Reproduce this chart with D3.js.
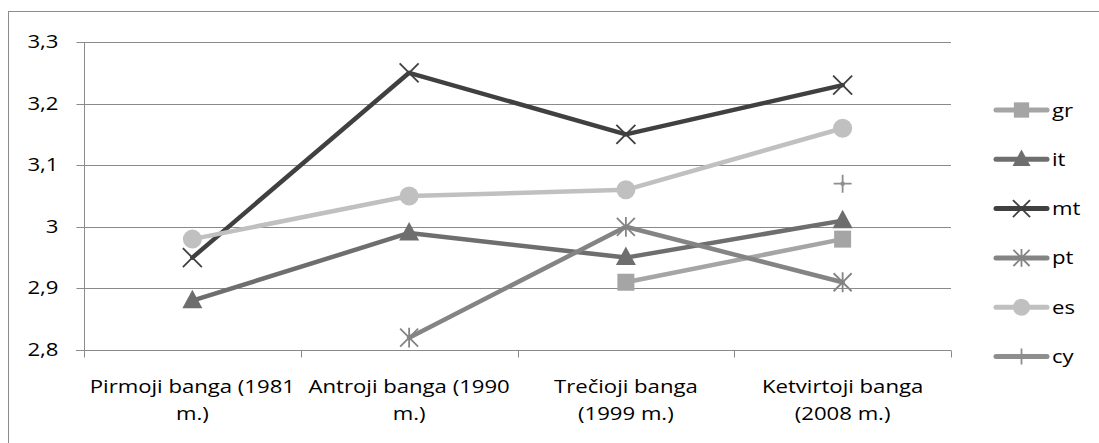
<!DOCTYPE html>
<html><head><meta charset="utf-8">
<script src="https://cdn.jsdelivr.net/npm/d3@7"></script>
<style>body{margin:0;background:#fff}svg{display:block}text{font-family:"Open Sans",Lato,sans-serif;fill:#000}</style>
</head><body><svg id="c" width="1099" height="443"></svg>
<script>
const categories = ["Pirmoji banga (1981 m.)", "Antroji banga (1990 m.)", "Trečioji banga (1999 m.)", "Ketvirtoji banga (2008 m.)"];
const categoryLines = [["Pirmoji banga (1981", "m.)"], ["Antroji banga (1990", "m.)"], ["Trečioji banga", "(1999 m.)"], ["Ketvirtoji banga", "(2008 m.)"]];
const seriesNames = ["gr", "it", "mt", "pt", "es", "cy"];
const gr = [null, null, 2.91, 2.98];
const it = [2.88, 2.99, 2.95, 3.01];
const mt = [2.95, 3.25, 3.15, 3.23];
const pt = [null, 2.82, 3.00, 2.91];
const es = [2.98, 3.05, 3.06, 3.16];
const cy = [null, null, null, 3.07];
const yTicks = [2.8, 2.9, 3.0, 3.1, 3.2, 3.3];

const seriesValues = {gr, it, mt, pt, es, cy};
const colors = {gr:"#a5a5a5", it:"#6e6e6e", mt:"#404040", pt:"#848484", es:"#c0c0c0", cy:"#8e8e8e"};
const markers = {gr:"square", it:"triangle", mt:"x", pt:"star", es:"circle", cy:"plus"};
const FS = "18px";
const SX = 1.23;

const svg = d3.select("#c");
const L = 84, R = 951, T = 42, B = 350;
const x = d3.scaleBand().domain(categories).range([L, R]);
const y = d3.scaleLinear().domain([2.8, 3.3]).range([B, T]);

svg.append("rect").attr("x", 8.5).attr("y", 11.5).attr("width", 1200).attr("height", 500)
  .attr("fill", "none").attr("stroke", "#8c8c8c").attr("stroke-width", 1);

svg.append("g").selectAll("line").data(yTicks.slice(1)).join("line")
  .attr("x1", L).attr("x2", R).attr("y1", d => Math.round(y(d)) + 0.5).attr("y2", d => Math.round(y(d)) + 0.5)
  .attr("stroke", "#8a8a8a").attr("stroke-width", 1.2);

const yAxis = d3.axisLeft(y).tickValues(yTicks).tickSize(8).tickPadding(17)
  .tickFormat(d => d3.format(".1f")(d).replace(".0", "").replace(".", ","));
const gy = svg.append("g").attr("transform", `translate(${L + 0.5},0)`).call(yAxis);
gy.select(".domain").attr("stroke", "#8a8a8a").attr("d", `M0,${T}V${B}`);
gy.selectAll(".tick line").attr("stroke", "#8a8a8a");
gy.selectAll(".tick").attr("transform", d => `translate(0,${Math.round(y(d)) + 0.5})`);
gy.selectAll(".tick text").style("font-size", FS).style("font-family", "'Open Sans'").attr("fill", "#000")
  .attr("x", 0).attr("transform", `translate(-26,0) scale(${SX},1)`);

const gx = svg.append("g").attr("transform", `translate(0,${B + 0.5})`);
gx.append("line").attr("x1", L - 8).attr("x2", R).attr("stroke", "#8a8a8a").attr("stroke-width", 1.2);
const bounds = [L].concat(categories.map(c => x(c) + x.bandwidth()));
gx.selectAll(".vt").data(bounds).join("line").attr("class", "vt")
  .attr("x1", d => Math.round(d) + 0.5).attr("x2", d => Math.round(d) + 0.5).attr("y1", 0).attr("y2", 7)
  .attr("stroke", "#8a8a8a");
gx.selectAll(".lab").data(categories).join("text").attr("class", "lab")
  .attr("text-anchor", "middle").style("font-size", FS)
  .attr("transform", d => `translate(${x(d) + x.bandwidth() / 2},0) scale(${SX},1)`)
  .each(function(d, i) {
    d3.select(this).selectAll("tspan").data(categoryLines[i]).join("tspan")
      .attr("x", 0).attr("y", (t, j) => 43 + j * 27).text(t => t);
  });

function drawMarker(g, type, color, cx, cy, scale) {
  const s = scale || 1;
  if (type === "square") {
    g.append("rect").attr("x", cx - 8.5 * s).attr("y", cy - 8.5 * s).attr("width", 17 * s).attr("height", 17 * s).attr("fill", color);
  } else if (type === "triangle") {
    g.append("path").attr("d", `M${cx},${cy - 11 * s}L${cx + 10 * s},${cy + 7.5 * s}L${cx - 10 * s},${cy + 7.5 * s}Z`).attr("fill", color);
  } else if (type === "circle") {
    g.append("circle").attr("cx", cx).attr("cy", cy).attr("r", 9.5 * s).attr("fill", color);
  } else if (type === "x") {
    const r = 9.5 * s;
    g.append("path").attr("d", `M${cx - r},${cy - r}L${cx + r},${cy + r}M${cx - r},${cy + r}L${cx + r},${cy - r}`)
      .attr("stroke", color).attr("stroke-width", 1.8).attr("fill", "none");
  } else if (type === "star") {
    const r = 9 * s;
    g.append("path").attr("d", `M${cx - r},${cy - r}L${cx + r},${cy + r}M${cx - r},${cy + r}L${cx + r},${cy - r}M${cx},${cy - r * 1.1}L${cx},${cy + r * 1.1}`)
      .attr("stroke", color).attr("stroke-width", 1.8).attr("fill", "none");
  } else if (type === "plus") {
    const r = 9 * s;
    g.append("path").attr("d", `M${cx - r},${cy}L${cx + r},${cy}M${cx},${cy - r}L${cx},${cy + r}`)
      .attr("stroke", color).attr("stroke-width", 1.8).attr("fill", "none");
  }
}

const cx = c => x(c) + x.bandwidth() / 2;
const line = d3.line().defined(d => d.v !== null).x(d => cx(d.c)).y(d => y(d.v));

seriesNames.forEach(name => {
  const g = svg.append("g");
  const pts = seriesValues[name].map((v, i) => ({c: categories[i], v}));
  g.append("path").datum(pts).attr("d", line).attr("fill", "none")
    .attr("stroke", colors[name]).attr("stroke-width", 4.5).attr("stroke-linejoin", "round").attr("stroke-linecap", "round");
  pts.filter(p => p.v !== null).forEach(p => drawMarker(g, markers[name], colors[name], cx(p.c), y(p.v)));
});

const leg = svg.append("g");
seriesNames.forEach((name, i) => {
  const ly = 110 + i * 49.3;
  leg.append("line").attr("x1", 996).attr("x2", 1047).attr("y1", ly).attr("y2", ly)
    .attr("stroke", colors[name]).attr("stroke-width", 5).attr("stroke-linecap", "round");
  drawMarker(leg, markers[name], colors[name], 1021.5, ly, 0.9);
  leg.append("text").attr("x", 0).attr("y", 0).style("font-size", FS)
    .attr("transform", `translate(1052,${ly + 6.5}) scale(${SX},1)`).text(name);
});
</script></body></html>
